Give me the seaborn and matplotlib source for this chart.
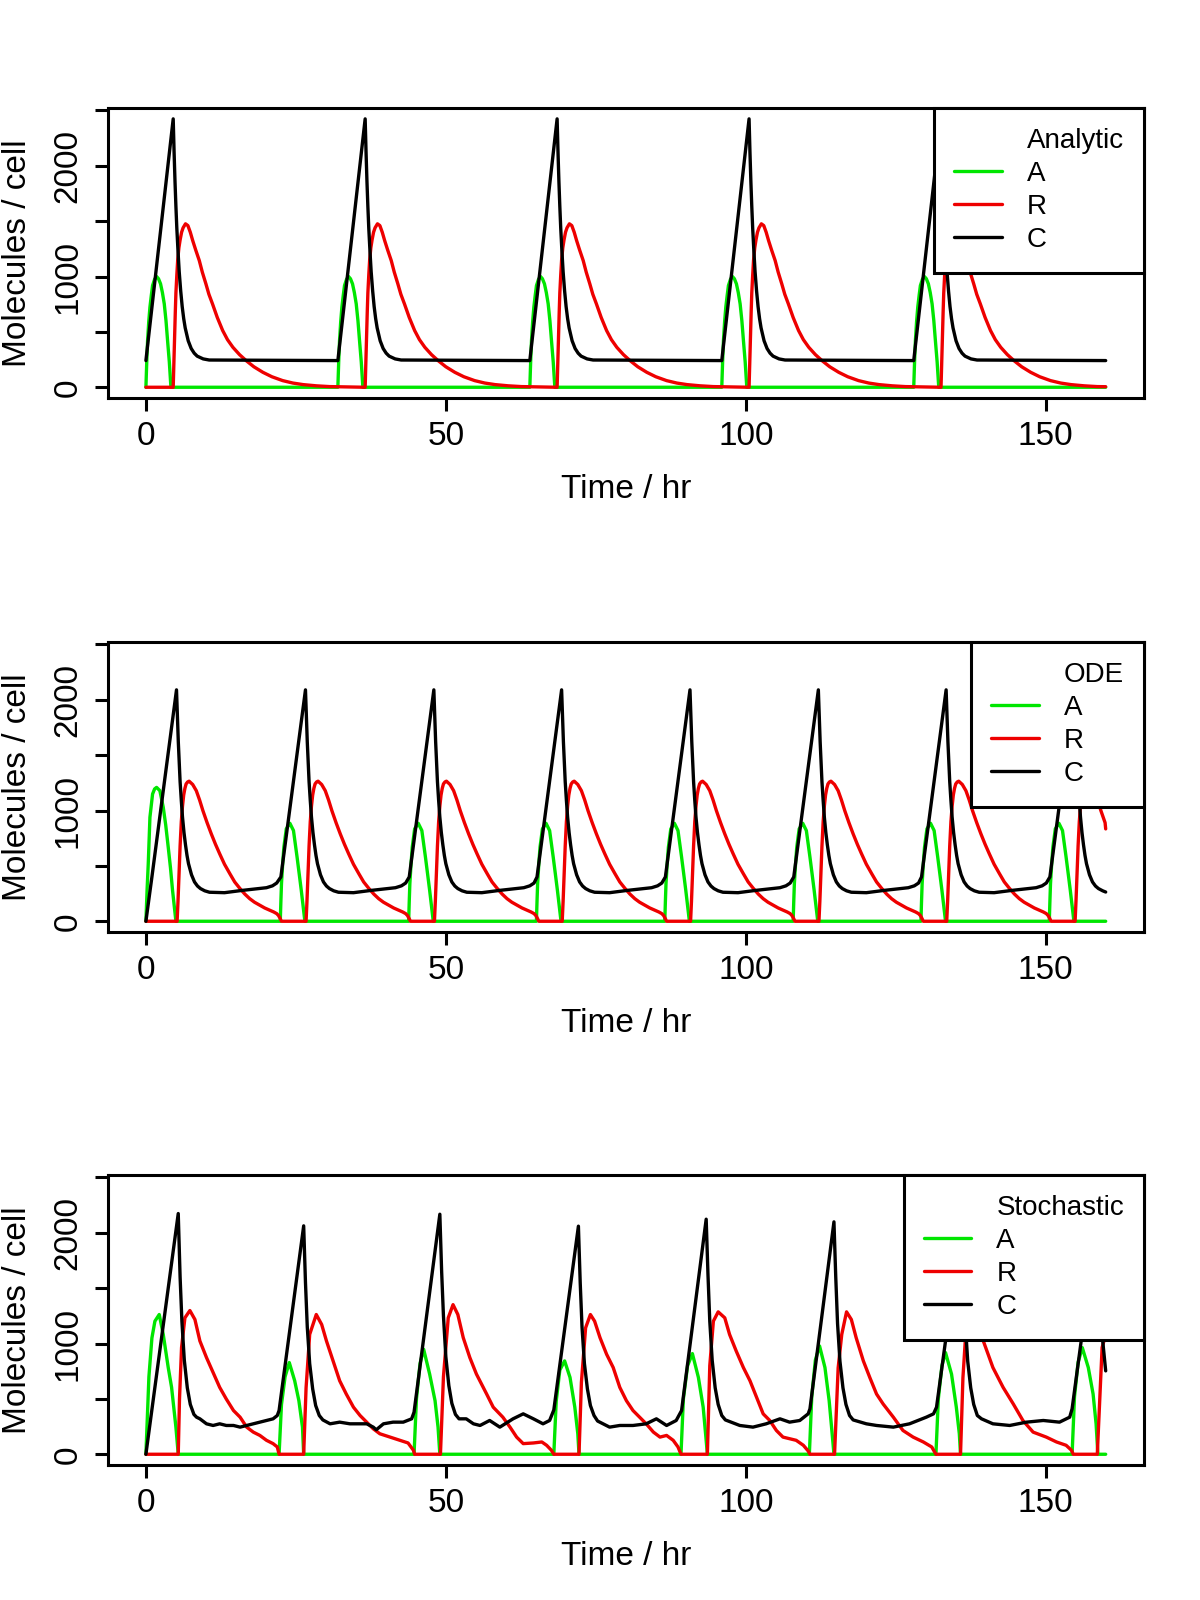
import numpy as np
import pandas as pd
import seaborn as sns
import matplotlib.pyplot as plt
from matplotlib.lines import Line2D

# ---------------- Analytic panel: one cycle (times relative to cycle start)
an_starts = [0, 32, 64, 96, 128]
an_A_t = [0, 0.14, 0.28, 0.47, 0.67, 0.9, 1.11, 1.45, 1.78, 2.1, 2.44, 2.75, 3.06, 3.35, 3.61, 3.9, 4.17]
an_A_v = [0, 230, 422, 590, 723, 830, 919, 975, 1000, 980, 934, 855, 753, 600, 422, 230, 0]
an_R_t = [4.55, 4.65, 4.75, 4.9, 5.0, 5.15, 5.3, 5.5, 5.7, 5.95, 6.2, 6.6, 7.0, 7.4, 7.8, 8.3, 8.9, 9.4,
          10.0, 10.5, 11.1, 11.9, 12.8, 13.6, 14.5, 15.6, 16.7, 18.0, 19.5, 21.0, 22.8, 24.5, 26.2, 28.4, 30.6]
an_R_v = [0, 200, 400, 680, 850, 1010, 1150, 1260, 1330, 1400, 1440, 1476, 1460, 1400, 1325, 1240, 1144, 1040,
          934, 840, 753, 630, 512, 430, 361, 295, 241, 185, 135, 95, 60, 38, 24, 13, 6]
an_C_t = [0, 4.55, 4.7, 4.85, 5.0, 5.15, 5.35, 5.55, 5.8, 6.05, 6.3, 6.55, 7.05, 7.55, 8.05, 8.55, 9.55, 10.55]
an_C_v = [241, 2424, 2120, 1858, 1635, 1439, 1230, 1044, 870, 728, 620, 536, 420, 350, 308, 281, 256, 246]

# ---------------- ODE panel: C peak times, cycle shapes relative to C peak
ode_peaks = [5.1, 26.6, 48.0, 69.3, 90.7, 112.1, 133.4, 154.8]
ode_A1_t = [0, 0.2, 0.39, 0.67, 1.11, 1.45, 1.78, 2.33, 2.89, 3.3, 3.72, 4.1, 4.44, 5.0]   # first pulse
ode_A1_v = [0, 290, 519, 939, 1149, 1195, 1209, 1179, 1029, 870, 669, 480, 279, 0]
ode_A_t = [-4.2, -4.1, -4.0, -3.8, -3.6, -3.2, -2.6, -2.0, -1.4, -1.05, -0.7, -0.4, -0.1]
ode_A_v = [0, 180, 339, 520, 669, 834, 885, 819, 579, 430, 279, 140, 0]
ode_R_t = [0.1, 0.25, 0.4, 0.6, 0.8, 1.0, 1.2, 1.4, 1.6, 1.85, 2.1, 2.7, 3.3, 3.85, 4.4, 5.1, 5.8, 6.5,
           7.2, 8.0, 8.9, 9.7, 10.6, 11.4, 12.2, 13.0, 13.9, 14.7, 15.6, 16.2, 16.7, 17.0, 17.2, 17.4, 17.5]
ode_R_v = [0, 180, 400, 680, 900, 1040, 1140, 1200, 1240, 1258, 1265, 1235, 1179, 1095, 999, 890, 789, 695,
           609, 515, 429, 355, 294, 245, 204, 172, 144, 120, 99, 84, 69, 52, 33, 10, 0]
ode_C_t = [-4.1, 0, 0.15, 0.3, 0.45, 0.6, 0.8, 1.0, 1.25, 1.5, 1.75, 2.0, 2.5, 3.0, 3.5, 4.0, 4.7, 5.5,
           8.0, 11.0, 15.0, 16.0, 16.7]
ode_C_v = [400, 2090, 1840, 1620, 1430, 1260, 1090, 940, 800, 690, 595, 520, 420, 355, 318, 295, 275, 262,
           258, 279, 303, 320, 345]

# ---------------- Stochastic panel: read point by point
st_A_t = [0, 0.5, 1.0, 1.5, 2.22, 2.89, 3.72, 4.28, 5.0, 5.39,
          22.2, 22.6, 23.2, 23.9, 24.8, 25.5, 26.1, 26.3,
          44.7, 45.1, 45.7, 46.3, 47.3, 48.2, 48.7, 49.0,
          68.0, 68.4, 69.0, 69.8, 70.7, 71.5, 72.0, 72.2,
          89.2, 89.6, 90.3, 91.1, 92.1, 92.9, 93.3, 93.6,
          110.6, 111.0, 111.6, 112.3, 113.2, 113.9, 114.4, 114.7,
          131.7, 132.1, 132.7, 133.3, 134.3, 135.1, 135.6, 135.8,
          154.4, 154.8, 155.4, 156.1, 157.1, 157.9, 158.4, 158.7, 160.0]
st_A_v = [0, 700, 1050, 1202, 1262, 1082, 783, 604, 245, 0,
          0, 450, 700, 828, 664, 484, 245, 0,
          0, 500, 820, 948, 724, 484, 245, 0,
          0, 480, 760, 843, 694, 425, 185, 0,
          0, 500, 800, 909, 694, 425, 185, 0,
          0, 520, 850, 978, 783, 484, 185, 0,
          0, 500, 800, 918, 724, 425, 185, 0,
          0, 520, 830, 963, 783, 544, 275, 0, 0]
st_R_t = [0, 5.39, 5.6, 5.94, 6.5, 7.33, 8.17, 9.0, 10.1, 11.2, 12.3, 13.4, 14.6, 15.7, 16.8, 17.9, 19.0, 20.1, 21.2, 21.9, 22.2,
          26.3, 26.7, 27.3, 28.4, 29.3, 30.1, 31.2, 32.3, 33.4, 34.6, 35.7, 36.8, 37.9, 39.0, 40.7, 42.3, 43.7, 44.6, 44.8,
          49.1, 49.6, 50.4, 51.2, 52.0, 52.9, 54.0, 55.1, 56.8, 57.9, 59.5, 60.7, 61.8, 62.9, 64.6, 66.0, 66.8, 67.6, 68.0,
          72.2, 72.6, 73.3, 74.1, 74.8, 75.7, 76.8, 77.9, 79.0, 80.1, 81.2, 82.3, 83.4, 84.6, 85.7, 86.8, 87.9, 88.7, 89.2,
          93.6, 94.0, 94.6, 95.4, 96.5, 97.3, 98.4, 99.6, 100.7, 101.8, 102.9, 104.0, 105.1, 106.2, 107.3, 108.4, 109.6, 110.4, 110.7,
          114.8, 115.4, 116.0, 116.8, 117.6, 118.4, 119.6, 120.7, 121.8, 122.9, 124.6, 126.2, 127.9, 129.6, 131.0, 131.7,
          135.8, 136.2, 136.6, 137.6, 138.6, 139.6, 141.2, 142.9, 144.6, 146.2, 147.9, 150.1, 151.8, 153.4, 154.3, 154.6,
          158.6, 159.4, 160.0]
st_R_v = [0, 0, 500, 963, 1232, 1298, 1217, 1023, 873, 739, 604, 499, 395, 335, 245, 200, 170, 126, 96, 66, 0,
          0, 600, 1082, 1262, 1172, 1023, 843, 664, 544, 425, 350, 290, 230, 185, 155, 126, 102, 36, 0,
          0, 700, 1232, 1351, 1262, 1053, 873, 724, 544, 425, 335, 245, 155, 96, 102, 111, 81, 36, 0,
          0, 650, 1142, 1262, 1202, 1053, 903, 783, 604, 484, 395, 335, 275, 200, 155, 170, 126, 66, 0,
          0, 800, 1202, 1286, 1232, 1082, 933, 783, 664, 514, 365, 305, 215, 155, 141, 126, 81, 30, 0,
          0, 780, 1082, 1286, 1217, 1053, 843, 690, 544, 454, 335, 215, 155, 111, 66, 0,
          0, 690, 1030, 1290, 1200, 1023, 783, 604, 454, 305, 200, 155, 111, 81, 36, 0,
          0, 963, 1080]
st_C_t = [0, 5.39, 5.7, 6.0, 6.4, 6.9, 7.4, 8.0, 8.44, 9.0, 10.1, 11.2, 12.3, 13.4, 14.6, 15.7, 16.8, 17.9, 19.0, 20.1, 21.2, 21.9, 22.2,
          26.3, 26.6, 26.9, 27.3, 27.8, 28.3, 28.9, 29.5, 30.7, 32.3, 34.0, 35.7, 36.8, 37.9, 38.4, 39.6, 41.2, 42.9, 44.3, 44.7,
          49.0, 49.3, 49.6, 50.0, 50.5, 51.0, 51.6, 52.2, 53.4, 54.6, 55.7, 57.3, 59.0, 61.2, 62.9, 64.6, 66.2, 67.3, 68.0,
          72.1, 72.4, 72.7, 73.1, 73.6, 74.1, 74.7, 75.3, 77.3, 79.0, 81.2, 83.4, 85.1, 86.8, 88.4, 89.3,
          93.4, 93.7, 94.0, 94.4, 94.9, 95.4, 96.0, 96.6, 99.0, 101.2, 103.4, 105.7, 107.3, 109.0, 110.4, 110.7,
          114.7, 115.0, 115.3, 115.7, 116.2, 116.7, 117.3, 117.9, 120.1, 121.8, 124.6, 127.3, 130.1, 131.3, 131.8,
          136.0, 136.3, 136.6, 137.0, 137.5, 138.0, 138.6, 139.3, 141.2, 144.0, 146.8, 149.6, 152.3, 154.0, 154.4,
          158.7, 159.0, 159.4, 160.0]
st_C_v = [0, 2174, 1600, 1200, 850, 600, 450, 360, 335, 320, 275, 260, 275, 260, 260, 245, 260, 275, 290, 305, 320, 350, 395,
          2063, 1550, 1150, 820, 590, 440, 350, 310, 275, 290, 275, 275, 275, 245, 221, 275, 290, 290, 320, 380,
          2168, 1650, 1250, 880, 620, 460, 360, 320, 320, 275, 260, 305, 245, 320, 365, 320, 275, 305, 400,
          2060, 1550, 1150, 820, 590, 440, 350, 300, 245, 260, 260, 275, 320, 260, 305, 395,
          2123, 1620, 1200, 850, 600, 450, 350, 310, 260, 245, 275, 320, 290, 305, 365, 410,
          2099, 1600, 1180, 840, 600, 450, 350, 310, 275, 260, 245, 275, 335, 365, 425,
          2100, 1600, 1180, 840, 600, 450, 350, 320, 275, 260, 290, 305, 290, 335, 410,
          2150, 1620, 1080, 753]

T_END = 160
species = ['A', 'R', 'C']
colours = {'A': '#00e600', 'R': '#ee0000', 'C': 'black'}


def tile(starts, rel_t, rel_v, end_v, first=None):
    # repeat a read-off cycle at the read-off cycle times, stop at T_END
    t, v = [], []
    if first is not None:
        t += list(first[0]); v += list(first[1])
    for s in starts:
        for a, b in zip(rel_t, rel_v):
            if s + a < T_END and (not t or s + a > t[-1]):
                t.append(s + a); v.append(b)
    t.append(T_END); v.append(end_v)
    return t, v


def frame(series):
    parts = []
    for name, (t, v) in series.items():
        parts.append(pd.DataFrame({'t': t, 'value': v, 'species': name}))
    return pd.concat(parts, ignore_index=True)


analytic = frame({
    'A': tile(an_starts, an_A_t, an_A_v, 0),
    'R': tile(an_starts, an_R_t, an_R_v, 5, first=([0], [0])),
    'C': tile(an_starts, an_C_t, an_C_v, 241),
})
ode = frame({
    'A': tile(ode_peaks[1:], ode_A_t, ode_A_v, 0, first=(ode_A1_t, ode_A1_v)),
    'R': tile(ode_peaks, ode_R_t, ode_R_v, 834, first=([0], [0])),
    'C': tile(ode_peaks, ode_C_t, ode_C_v, 264, first=([0], [0])),
})
stoch = frame({'A': (st_A_t, st_A_v), 'R': (st_R_t, st_R_v), 'C': (st_C_t, st_C_v)})

sns.set_style('ticks')
plt.rcParams['font.family'] = ['Liberation Sans', 'DejaVu Sans']
plt.rcParams.update({'text.color': 'black', 'axes.labelcolor': 'black',
                     'xtick.color': 'black', 'ytick.color': 'black'})

fig = plt.figure(figsize=(12, 16), dpi=100)
bottoms = [0.75125, 0.4175, 0.084375]
panels = [('Analytic', analytic), ('ODE', ode), ('Stochastic', stoch)]

for (title, df), b in zip(panels, bottoms):
    ax = fig.add_axes([0.0896, b, 0.8638, 0.18125])
    for sp in species:
        sns.lineplot(data=df[df['species'] == sp], x='t', y='value', color=colours[sp],
                     linewidth=2.4, estimator=None, sort=False, legend=False, ax=ax)
    ax.set_xlim(-6.4, 166.4)
    ax.set_ylim(-97, 2522)
    ax.set_xticks([0, 50, 100, 150])
    ax.set_yticks([0, 500, 1000, 1500, 2000, 2500])
    ax.set_yticklabels(['0', '', '1000', '', '2000', ''])
    ax.tick_params(direction='out', length=9.4, width=2.2, labelsize=24, colors='black')
    ax.tick_params(axis='x', pad=7.4)
    ax.tick_params(axis='y', pad=8, labelrotation=90)
    for lbl in ax.get_yticklabels():
        lbl.set_va('center')
    for s in ax.spines.values():
        s.set_linewidth(2.2)
        s.set_color('black')
    ax.set_xlabel('Time / hr', fontsize=24, labelpad=15.3)
    ax.set_ylabel('Molecules / cell', fontsize=24, labelpad=13.8)

    handles = [Line2D([], [], color='none')] + [Line2D([], [], color=colours[sp], lw=2.4) for sp in species]
    leg = ax.legend(handles, [title] + species, loc='upper right', borderaxespad=0, fontsize=20,
                    frameon=True, fancybox=False, framealpha=1, edgecolor='black',
                    borderpad=0.72, labelspacing=0.25, handlelength=1.72, handletextpad=0.9)
    leg.get_frame().set_linewidth(2.2)

fig.savefig('out.png', dpi=100)
